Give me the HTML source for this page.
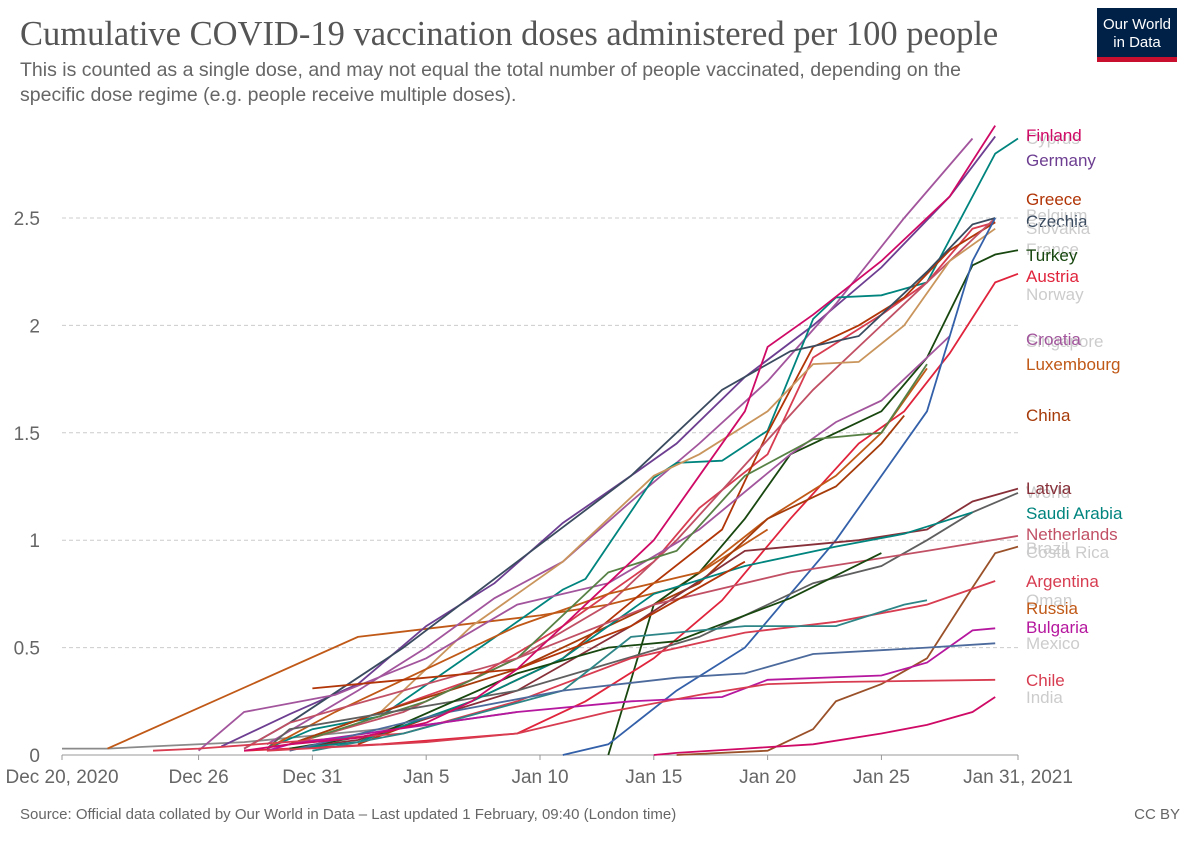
<!DOCTYPE html>
<html><head><meta charset="utf-8"><style>
body{margin:0;background:#fff;width:1200px;height:847px;overflow:hidden;font-family:"Liberation Sans",sans-serif}
#title{position:absolute;left:20px;top:15px;font-family:"Liberation Serif",serif;font-size:34.5px;color:#555;white-space:nowrap}
#sub{position:absolute;left:20px;top:58px;font-size:19.5px;line-height:25px;color:#666;width:990px}
#logo{position:absolute;left:1097px;top:8px;width:80px;height:54px;background:#002147;color:#fff;font-size:15px;line-height:18px;text-align:center;padding-top:8px;box-sizing:border-box}
#logo:after{content:"";position:absolute;left:0;bottom:0;width:80px;height:5px;background:#c8102e}
#src{position:absolute;left:20px;top:806px;font-size:15px;color:#666}
#cc{position:absolute;right:20px;top:806px;font-size:15px;color:#666}
svg{position:absolute;left:0;top:0}
</style></head><body>
<div id="title">Cumulative COVID-19 vaccination doses administered per 100 people</div>
<div id="sub">This is counted as a single dose, and may not equal the total number of people vaccinated, depending on the specific dose regime (e.g. people receive multiple doses).</div>
<div id="logo">Our World<br>in Data</div>
<div id="src">Source: Official data collated by Our World in Data – Last updated 1 February, 09:40 (London time)</div>
<div id="cc">CC BY</div>
<svg id="chart" width="1200" height="847"></svg>
<script>
const yTicks=[0,0.5,1,1.5,2,2.5];
const yTickLabels=["0","0.5","1","1.5","2","2.5"];
const xTickDays=[0,6,11,16,21,26,31,36,42];
const xTickLabels=["Dec 20, 2020","Dec 26","Dec 31","Jan 5","Jan 10","Jan 15","Jan 20","Jan 25","Jan 31, 2021"];
const seriesNames=["World","Russia-long","Germany","Croatia-upper","Cyprus","Belgium","Greece","Slovakia","Czechia","France","Turkey","Austria","Croatia","Luxembourg","China","Steep-blue","Olive","Latvia","Grey-dark","Saudi Arabia","Netherlands","Dark-green","Costa Rica","Argentina","Oman","Bulgaria","Mexico","Chile","India","Dec31-orange","Finland"];
const seriesDays=[
[0,2,4,8,12,16,20],
[2,13,21,24,27,31],
[7,10,13,16,19,22,25,27,30,33,36,39,41],
[9,13,16,19,22,25,28,31,34,37,40],
[9,11,14,17,20,22,23,26,27,29,31,33,34,36,38,41,42],
[10,14,18,22,24,26,28,31,33,36,38,40,41],
[13,18,22,26,29,31,33,35,37,39,41],
[10,15,20,24,27,30,33,36,38,40,41],
[8,10,15,20,25,29,32,35,38,40,41],
[10,14,18,22,26,28,31,33,35,37,39,41],
[24,26,28,30,32,34,36,38,40,41,42],
[8,14,20,23,26,29,32,35,37,39,41,42],
[6,8,12,16,20,24,28,32,34,36,39],
[9,12,16,20,24,28,31,34,36,38],
[10,14,20,24,28,31,34,36,37],
[22,24,27,30,34,38,40,41],
[11,16,20,24,27,30,33,36,38],
[10,13,20,25,30,35,38,40,42],
[9,10,20,28,33,36,38,40,42],
[10,13,18,22,26,30,34,37,40],
[8,10,20,26,32,38,42],
[10,14,20,24,27,32,36],
[27,31,33,34,36,38,40,41,42],
[4,6,15,20,25,30,34,38,41],
[11,15,22,25,30,34,37,38],
[9,10,20,25,29,31,36,38,40,41],
[10,17,22,27,30,33,38,41],
[9,16,20,24,28,31,34,41],
[26,27,30,33,36,38,40,41],
[11,15,20,25,30],
[8,10,13,16,18,20,22,24,26,28,30,31,33,36,39,41]];
const seriesValues=[
[0.03,0.03,0.04,0.06,0.1,0.14,0.2],
[0.03,0.55,0.65,0.7,0.78,1.05],
[0.04,0.19,0.33,0.6,0.8,1.08,1.3,1.45,1.76,2.0,2.27,2.6,2.88],
[0.05,0.3,0.5,0.73,0.9,1.18,1.45,1.74,2.1,2.5,2.87],
[0.03,0.12,0.18,0.4,0.62,0.77,0.82,1.29,1.36,1.37,1.51,2.03,2.13,2.14,2.2,2.8,2.87],
[0.05,0.2,0.35,0.6,0.75,0.9,1.15,1.4,1.85,2.05,2.2,2.45,2.48],
[0.05,0.25,0.45,0.8,1.05,1.5,1.9,2.0,2.13,2.35,2.48],
[0.05,0.2,0.45,0.7,1.0,1.35,1.7,2.0,2.2,2.4,2.5],
[0.03,0.15,0.5,0.9,1.3,1.7,1.88,1.95,2.25,2.47,2.5],
[0.05,0.2,0.6,0.9,1.3,1.4,1.6,1.82,1.83,2.0,2.3,2.45],
[0.0,0.7,0.85,1.1,1.4,1.5,1.6,1.85,2.28,2.33,2.35],
[0.02,0.05,0.1,0.25,0.45,0.72,1.1,1.45,1.6,1.87,2.2,2.24],
[0.02,0.2,0.28,0.45,0.7,0.8,1.05,1.4,1.55,1.65,1.95],
[0.03,0.2,0.4,0.6,0.75,0.85,1.1,1.3,1.5,1.8],
[0.05,0.2,0.4,0.6,0.8,1.1,1.25,1.45,1.58],
[0.0,0.05,0.3,0.5,1.0,1.6,2.3,2.5],
[0.08,0.25,0.45,0.85,0.95,1.3,1.47,1.5,1.82],
[0.03,0.07,0.3,0.6,0.95,1.0,1.05,1.18,1.24],
[0.03,0.12,0.3,0.55,0.8,0.88,1.0,1.13,1.22],
[0.03,0.06,0.25,0.45,0.75,0.88,0.97,1.03,1.13],
[0.03,0.15,0.45,0.7,0.85,0.95,1.02],
[0.03,0.1,0.38,0.5,0.53,0.73,0.94],
[0.0,0.02,0.12,0.25,0.33,0.45,0.78,0.94,0.97],
[0.02,0.03,0.1,0.25,0.45,0.57,0.62,0.7,0.81],
[0.02,0.1,0.3,0.55,0.6,0.6,0.7,0.72],
[0.02,0.05,0.2,0.25,0.27,0.35,0.37,0.43,0.58,0.59],
[0.02,0.2,0.3,0.36,0.38,0.47,0.5,0.52],
[0.02,0.06,0.1,0.2,0.28,0.33,0.34,0.35],
[0.0,0.01,0.03,0.05,0.1,0.14,0.2,0.27],
[0.31,0.35,0.4,0.6,0.9],
[0.02,0.05,0.08,0.15,0.25,0.4,0.6,0.8,1.0,1.3,1.6,1.9,2.05,2.3,2.6,2.93]];
const seriesColors=["#8a8a8a","#c05917","#6d3e91","#a2559c","#00847e","#d73c50","#b13507","#c15065","#3a4b60","#c9955c","#18470f","#e0243c","#a2559c","#c05917","#a63b0a","#3360a9","#578145","#883039","#5f5f5f","#00847e","#c15065","#18470f","#9a5129","#d73c50","#2d8587","#b5179e","#4c6a9c","#d73c50","#cf0a66","#b13507","#cf0a66"];
const labelNames=["Cyprus","Finland","Germany","Greece","Belgium","Czechia","Slovakia","France","Turkey","Austria","Norway","Singapore","Croatia","Luxembourg","China","World","Latvia","Saudi Arabia","Brazil","Costa Rica","Netherlands","Argentina","Oman","Russia","Bulgaria","Mexico","Chile","India"];
const labelY=[138,135,160,199,215,221,228,249,255,276,294,341,339,364,415,492,488,513,548,552,534,581,600,608,627,643,680,697];
const labelColors=["#ccc","#cf0a66","#6d3e91","#b13507","#ccc","#3a4b60","#ccc","#ccc","#18470f","#e0243c","#ccc","#ccc","#a2559c","#c05917","#a63b0a","#ccc","#883039","#00847e","#ccc","#ccc","#c15065","#d73c50","#ccc","#c05917","#b5179e","#ccc","#d73c50","#ccc"];
const NS="http://www.w3.org/2000/svg";
const svg=document.getElementById('chart');
const X=d=>62+d*(956/42), Y=v=>755-v*214.8;
function mk(t,a){const e=document.createElementNS(NS,t);for(const k in a)e.setAttribute(k,a[k]);svg.appendChild(e);return e;}
yTicks.forEach((v,i)=>{
 if(v>0){const g=mk('line',{x1:62,x2:1018,y1:Y(v),y2:Y(v),stroke:'#ccc','stroke-dasharray':'4,3'});
 
 }
 const t=mk('text',{x:40,y:Y(v)+7,'text-anchor':'end','font-size':19,fill:'#666'});t.textContent=yTickLabels[i];
 
 
});
const ax=mk('line',{x1:62,x2:1018,y1:755,y2:755,stroke:'#999'});


xTickDays.forEach((d,i)=>{
 mk('line',{x1:X(d),x2:X(d),y1:755,y2:760,stroke:'#999'});
 const t=mk('text',{x:X(d),y:783,'text-anchor':'middle','font-size':19,fill:'#666'});t.textContent=xTickLabels[i];
 
 
});
seriesNames.forEach((n,i)=>{
 const pts=seriesDays[i].map((d,j)=>X(d).toFixed(1)+','+Y(seriesValues[i][j]).toFixed(1)).join(' ');
 const p=mk('polyline',{points:pts,fill:'none',stroke:seriesColors[i],'stroke-width':1.8});
 
 
});
labelNames.forEach((n,i)=>{
 const t=mk('text',{x:1026,y:labelY[i]+6,'font-size':17,fill:labelColors[i]});t.textContent=n;
 
 
});
</script>
</body></html>
